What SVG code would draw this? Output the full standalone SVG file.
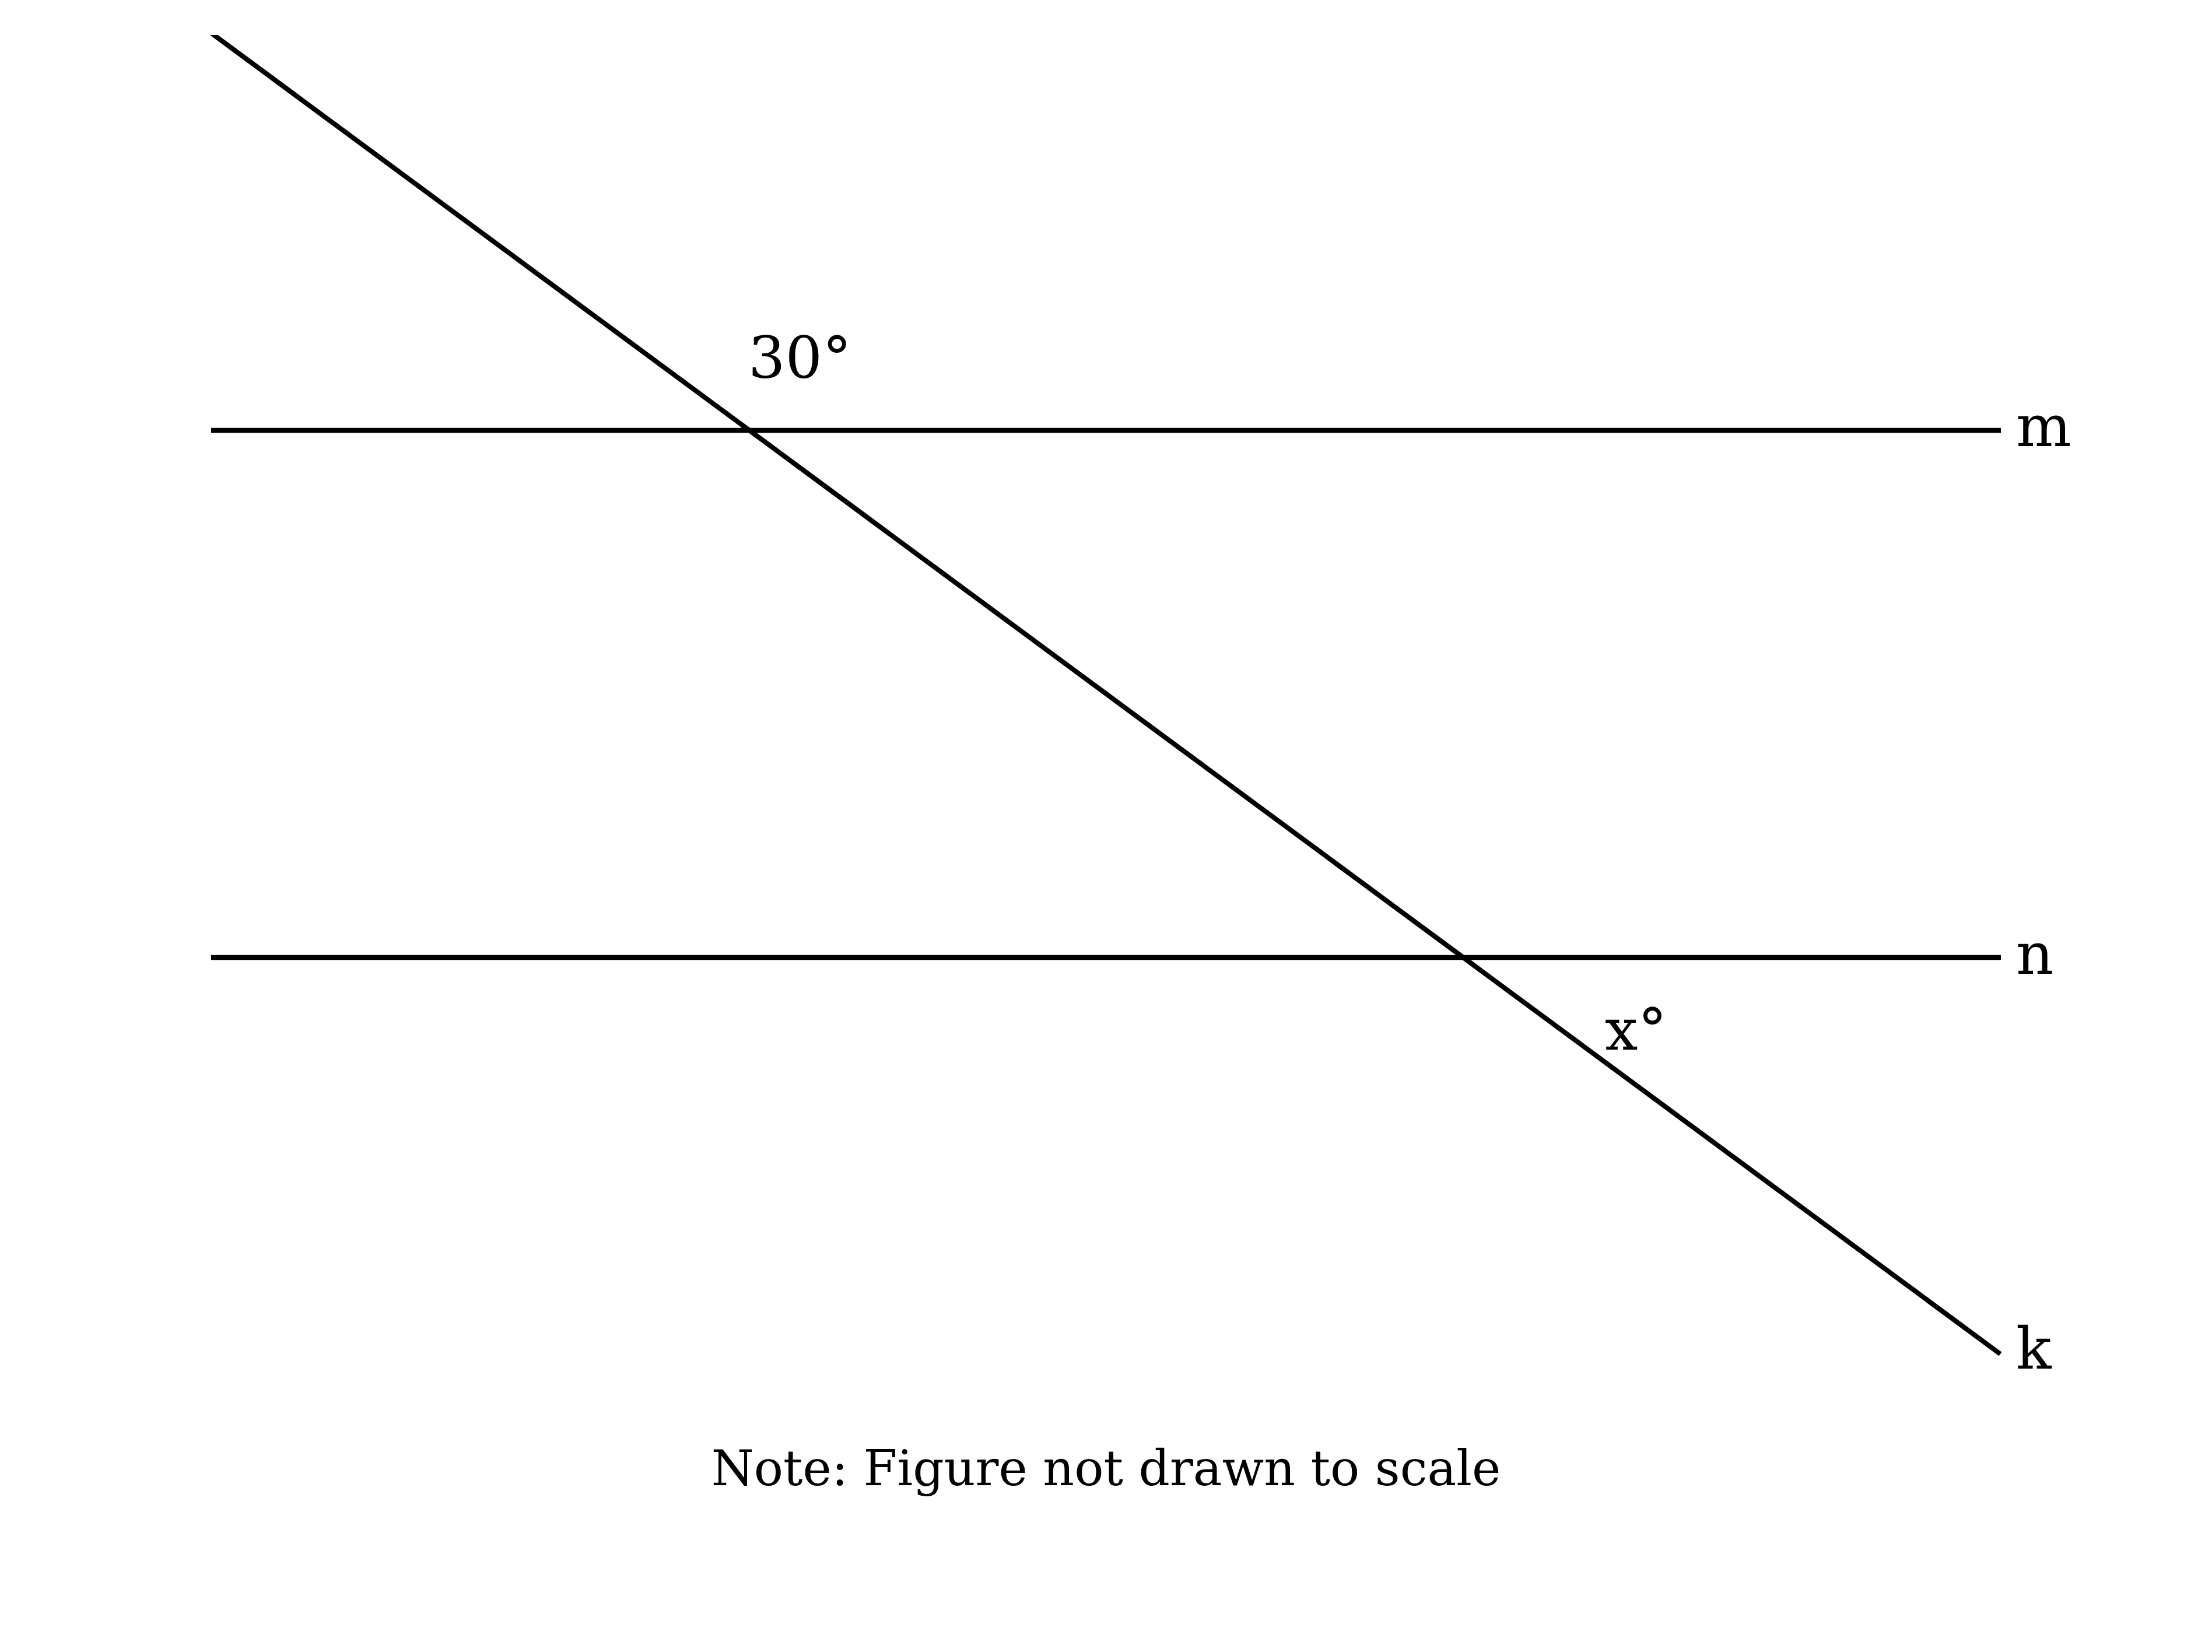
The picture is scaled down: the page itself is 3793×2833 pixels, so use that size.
<svg xmlns="http://www.w3.org/2000/svg" width="3793" height="2833" viewBox="0 0 3793 2833">
<style>
.ln{stroke:#000;stroke-width:8.3;fill:none;stroke-linecap:butt}
.lbl{font-family:"DejaVu Serif","Liberation Serif",serif;font-size:100px;fill:#000}
.note{font-family:"DejaVu Serif","Liberation Serif",serif;font-size:83.5px;fill:#000}
</style>
<defs><clipPath id="ax"><rect x="0" y="60" width="3793" height="2773"/></clipPath></defs>
<rect width="3793" height="2833" fill="#fff"/>
<g id="connectors">
<line id="line-m" class="ln" x1="362" y1="738" x2="3431" y2="738"/>
<line id="line-n" class="ln" x1="362" y1="1642" x2="3431" y2="1642"/>
<line id="line-k" class="ln" clip-path="url(#ax)" x1="360" y1="55" x2="3430" y2="2322"/>
</g>
<g id="label-m"><text class="lbl" x="3457" y="765">m</text></g>
<g id="label-n"><text class="lbl" x="3457" y="1670">n</text></g>
<g id="label-k"><text class="lbl" x="3457" y="2347">k</text></g>
<g id="angle-30"><text class="lbl" x="1283" y="648">30°</text></g>
<g id="angle-x"><text class="lbl" x="2752" y="1800">x°</text></g>
<g id="note"><text class="note" x="1896.5" y="2547" text-anchor="middle">Note: Figure not drawn to scale</text></g>
</svg>
